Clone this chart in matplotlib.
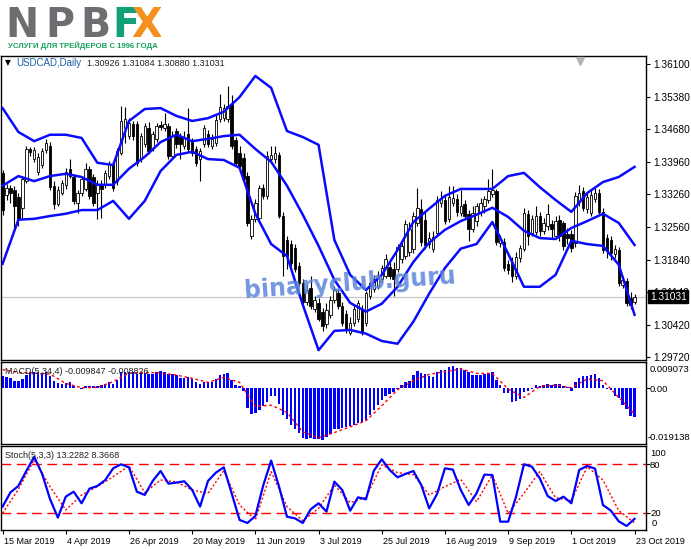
import matplotlib
matplotlib.use('Agg')
import matplotlib.pyplot as plt
import matplotlib.transforms as mtransforms
import numpy as np

# USDCAD daily, 15 Mar 2019 .. 23 Oct 2019
opens = [
    1.3373, 1.3325, 1.3340, 1.3336, 1.3321, 1.3297, 1.3355, 1.3425, 1.3403, 1.3375,
    1.3390, 1.3423, 1.3432, 1.3345, 1.3305, 1.3329, 1.3347, 1.3382, 1.3364, 1.3308,
    1.3329, 1.3338, 1.3382, 1.3364, 1.3329, 1.3349, 1.3349, 1.3366, 1.3392, 1.3355,
    1.3416, 1.3471, 1.3453, 1.3479, 1.3479, 1.3403, 1.3436, 1.3471, 1.3427, 1.3447,
    1.3477, 1.3471, 1.3475, 1.3410, 1.3464, 1.3453, 1.3432, 1.3458, 1.3442, 1.3425,
    1.3403, 1.3436, 1.3458, 1.3432, 1.3438, 1.3490, 1.3492, 1.3490, 1.3523, 1.3445,
    1.3416, 1.3405, 1.3366, 1.3236, 1.3273, 1.3275, 1.3340, 1.3323, 1.3403, 1.3403,
    1.3412, 1.3279, 1.3227, 1.3218, 1.3210, 1.3171, 1.3134, 1.3092, 1.3123, 1.3077,
    1.3090, 1.3071, 1.3044, 1.3064, 1.3097, 1.3112, 1.3084, 1.3066, 1.3025, 1.3047,
    1.3055, 1.3077, 1.3047, 1.3105, 1.3121, 1.3127, 1.3142, 1.3149, 1.3168, 1.3164,
    1.3164, 1.3186, 1.3192, 1.3201, 1.3208, 1.3264, 1.3295, 1.3271, 1.3218, 1.3208,
    1.3242, 1.3308, 1.3314, 1.3273, 1.3308, 1.3316, 1.3286, 1.3305, 1.3284, 1.3251,
    1.3268, 1.3288, 1.3301, 1.3314, 1.3327, 1.3334, 1.3221, 1.3223, 1.3175, 1.3177,
    1.3149, 1.3188, 1.3208, 1.3284, 1.3242, 1.3245, 1.3279, 1.3247, 1.3258, 1.3262,
    1.3236, 1.3271, 1.3264, 1.3240, 1.3240, 1.3221, 1.3310, 1.3334, 1.3295, 1.3286,
    1.3316, 1.3329, 1.3288, 1.3231, 1.3227, 1.3197, 1.3205, 1.3129, 1.3138, 1.3101,
    1.30926]
highs = [
    1.3379, 1.3349, 1.3347, 1.3345, 1.3329, 1.3366, 1.3432, 1.3429, 1.3429, 1.3416,
    1.3427, 1.3447, 1.3440, 1.3355, 1.3345, 1.3358, 1.3384, 1.3403, 1.3371, 1.3336,
    1.3366, 1.3395, 1.3388, 1.3371, 1.3358, 1.3358, 1.3379, 1.3399, 1.3399, 1.3427,
    1.3519, 1.3516, 1.3492, 1.3486, 1.3486, 1.3460, 1.3482, 1.3484, 1.3464, 1.3482,
    1.3486, 1.3503, 1.3482, 1.3464, 1.3471, 1.3460, 1.3464, 1.3514, 1.3449, 1.3432,
    1.3427, 1.3477, 1.3466, 1.3458, 1.3499, 1.3545, 1.3523, 1.3562, 1.3542, 1.3451,
    1.3432, 1.3416, 1.3375, 1.3282, 1.3316, 1.3347, 1.3349, 1.3421, 1.3432, 1.3432,
    1.3419, 1.3288, 1.3236, 1.3227, 1.3218, 1.3179, 1.3142, 1.3129, 1.3149, 1.3105,
    1.3101, 1.3079, 1.3090, 1.3105, 1.3127, 1.3121, 1.3092, 1.3075, 1.3060, 1.3086,
    1.3097, 1.3086, 1.3116, 1.3138, 1.3151, 1.3160, 1.3173, 1.3197, 1.3179, 1.3179,
    1.3218, 1.3225, 1.3271, 1.3266, 1.3288, 1.3340, 1.3316, 1.3288, 1.3245, 1.3247,
    1.3323, 1.3334, 1.3323, 1.3345, 1.3345, 1.3327, 1.3336, 1.3314, 1.3292, 1.3301,
    1.3308, 1.3318, 1.3323, 1.3360, 1.3382, 1.3338, 1.3238, 1.3231, 1.3184, 1.3190,
    1.3201, 1.3216, 1.3297, 1.3292, 1.3282, 1.3301, 1.3288, 1.3275, 1.3305, 1.3271,
    1.3279, 1.3282, 1.3268, 1.3253, 1.3249, 1.3332, 1.3347, 1.3342, 1.3329, 1.3336,
    1.3340, 1.3338, 1.3297, 1.3240, 1.3236, 1.3216, 1.3212, 1.3149, 1.3144, 1.3114,
    1.31084]
lows = [
    1.3282, 1.3314, 1.3308, 1.3251, 1.3258, 1.3273, 1.3351, 1.3410, 1.3397, 1.3368,
    1.3384, 1.3416, 1.3336, 1.3295, 1.3301, 1.3325, 1.3338, 1.3362, 1.3305, 1.3286,
    1.3323, 1.3334, 1.3316, 1.3301, 1.3273, 1.3275, 1.3340, 1.3360, 1.3334, 1.3347,
    1.3412, 1.3438, 1.3447, 1.3445, 1.3388, 1.3397, 1.3429, 1.3414, 1.3421, 1.3440,
    1.3466, 1.3464, 1.3403, 1.3405, 1.3427, 1.3403, 1.3425, 1.3419, 1.3410, 1.3388,
    1.3355, 1.3429, 1.3429, 1.3425, 1.3432, 1.3484, 1.3486, 1.3484, 1.3425, 1.3388,
    1.3377, 1.3353, 1.3258, 1.3229, 1.3266, 1.3268, 1.3316, 1.3316, 1.3397, 1.3395,
    1.3275, 1.3149, 1.3164, 1.3171, 1.3158, 1.3127, 1.3084, 1.3086, 1.3077, 1.3071,
    1.3051, 1.3029, 1.3036, 1.3057, 1.3090, 1.3077, 1.3040, 1.3025, 1.3021, 1.3040,
    1.3049, 1.3021, 1.3040, 1.3099, 1.3114, 1.3121, 1.3136, 1.3144, 1.3142, 1.3105,
    1.3158, 1.3177, 1.3186, 1.3192, 1.3199, 1.3258, 1.3214, 1.3208, 1.3210, 1.3201,
    1.3236, 1.3299, 1.3262, 1.3266, 1.3301, 1.3279, 1.3279, 1.3273, 1.3225, 1.3245,
    1.3258, 1.3279, 1.3286, 1.3308, 1.3321, 1.3216, 1.3212, 1.3160, 1.3153, 1.3136,
    1.3142, 1.3179, 1.3203, 1.3216, 1.3236, 1.3238, 1.3236, 1.3240, 1.3249, 1.3229,
    1.3229, 1.3225, 1.3205, 1.3218, 1.3201, 1.3212, 1.3301, 1.3290, 1.3286, 1.3279,
    1.3310, 1.3284, 1.3199, 1.3188, 1.3184, 1.3188, 1.3127, 1.3123, 1.3084, 1.3077,
    1.30880]
closes = [
    1.3292, 1.3340, 1.3329, 1.3301, 1.3273, 1.3360, 1.3425, 1.3419, 1.3423, 1.3408,
    1.3421, 1.3438, 1.3342, 1.3305, 1.3336, 1.3351, 1.3375, 1.3366, 1.3312, 1.3329,
    1.3360, 1.3382, 1.3323, 1.3308, 1.3349, 1.3338, 1.3373, 1.3392, 1.3340, 1.3421,
    1.3486, 1.3490, 1.3482, 1.3453, 1.3395, 1.3453, 1.3475, 1.3421, 1.3458, 1.3475,
    1.3473, 1.3479, 1.3410, 1.3453, 1.3436, 1.3436, 1.3449, 1.3425, 1.3416, 1.3395,
    1.3421, 1.3471, 1.3436, 1.3447, 1.3488, 1.3516, 1.3514, 1.3519, 1.3432, 1.3395,
    1.3388, 1.3360, 1.3264, 1.3273, 1.3308, 1.3340, 1.3323, 1.3410, 1.3412, 1.3416,
    1.3279, 1.3192, 1.3192, 1.3177, 1.3164, 1.3134, 1.3092, 1.3118, 1.3084, 1.3097,
    1.3055, 1.3040, 1.3075, 1.3097, 1.3118, 1.3084, 1.3047, 1.3034, 1.3047, 1.3077,
    1.3090, 1.3027, 1.3112, 1.3134, 1.3142, 1.3149, 1.3166, 1.3186, 1.3149, 1.3142,
    1.3212, 1.3214, 1.3262, 1.3251, 1.3279, 1.3297, 1.3223, 1.3216, 1.3231, 1.3234,
    1.3314, 1.3316, 1.3268, 1.3321, 1.3318, 1.3288, 1.3301, 1.3279, 1.3251, 1.3286,
    1.3301, 1.3308, 1.3316, 1.3334, 1.3336, 1.3223, 1.3229, 1.3166, 1.3162, 1.3149,
    1.3190, 1.3210, 1.3286, 1.3236, 1.3273, 1.3279, 1.3247, 1.3264, 1.3284, 1.3251,
    1.3268, 1.3236, 1.3214, 1.3231, 1.3210, 1.3323, 1.3329, 1.3297, 1.3321, 1.3325,
    1.3329, 1.3288, 1.3205, 1.3203, 1.3199, 1.3208, 1.3134, 1.3140, 1.3090, 1.3086,
    1.31031]

# Bollinger bands, read every 4th bar
bb_upper = [
    1.3514, 1.3462, 1.3442, 1.3456, 1.3456, 1.3449, 1.3395, 1.3390, 1.3486, 1.3512,
    1.3514, 1.3497, 1.3486, 1.3492, 1.3506, 1.3538, 1.3584, 1.3558, 1.3464, 1.3451,
    1.3434, 1.3227, 1.3151, 1.3118, 1.3151, 1.3205, 1.3266, 1.3295, 1.3323, 1.3338,
    1.3338, 1.3338, 1.3366, 1.3373, 1.3342, 1.3314, 1.3288, 1.3329, 1.3353, 1.3364,
    1.3386]
bb_mid = [
    1.3345, 1.3366, 1.3355, 1.3366, 1.3371, 1.3364, 1.3347, 1.3347, 1.3382, 1.3408,
    1.3440, 1.3456, 1.3442, 1.3447, 1.3453, 1.3456, 1.3425, 1.3397, 1.3345, 1.3282,
    1.3214, 1.3140, 1.3090, 1.3071, 1.3088, 1.3125, 1.3179, 1.3221, 1.3249, 1.3268,
    1.3282, 1.3297, 1.3277, 1.3247, 1.3231, 1.3229, 1.3253, 1.3268, 1.3284, 1.3264,
    1.3216]
bb_lower = [
    1.3175, 1.3271, 1.3273, 1.3279, 1.3284, 1.3292, 1.3292, 1.3312, 1.3273, 1.3312,
    1.3377, 1.3412, 1.3419, 1.3403, 1.3401, 1.3384, 1.3284, 1.3218, 1.3192, 1.3086,
    1.2987, 1.3029, 1.3031, 1.3023, 1.3007, 1.3001, 1.3049, 1.3110, 1.3166, 1.3208,
    1.3218, 1.3266, 1.3197, 1.3125, 1.3125, 1.3151, 1.3225, 1.3218, 1.3214, 1.3173,
    1.3064]

macd_hist = [
    0.00415, 0.00380, 0.00346, 0.00265, 0.00242, 0.00323, 0.00461, 0.00577, 0.00553, 0.00553,
    0.00530, 0.00577, 0.00438, 0.00265, 0.00184, 0.00161, 0.00173, 0.00208, 0.00092, 0.00023,
    -0.00023, 0.00069, 0.00069, 0.00069, 0.00069, 0.00115, 0.00138, 0.00208, 0.00161, 0.00300,
    0.00553, 0.00577, 0.00553, 0.00553, 0.00507, 0.00530, 0.00530, 0.00507, 0.00507, 0.00553,
    0.00600, 0.00577, 0.00484, 0.00484, 0.00461, 0.00369, 0.00369, 0.00392, 0.00323, 0.00231,
    0.00161, 0.00208, 0.00208, 0.00231, 0.00323, 0.00461, 0.00484, 0.00530, 0.00300, 0.00115,
    0.00069, -0.00081, -0.00692, -0.00888, -0.00853, -0.00738, -0.00600, -0.00461, -0.00277, -0.00277,
    -0.00542, -0.00922, -0.01061, -0.01268, -0.01384, -0.01522, -0.01695, -0.01730, -0.01695, -0.01730,
    -0.01753, -0.01776, -0.01660, -0.01580, -0.01407, -0.01384, -0.01372, -0.01337, -0.01314, -0.01268,
    -0.01199, -0.01176, -0.01084, -0.00922, -0.00738, -0.00577, -0.00392, -0.00277, -0.00184, -0.00115,
    -0.00035, 0.00115, 0.00208, 0.00242, 0.00461, 0.00611, 0.00519, 0.00496, 0.00438, 0.00392,
    0.00577, 0.00646, 0.00646, 0.00726, 0.00761, 0.00703, 0.00692, 0.00646, 0.00553, 0.00461,
    0.00473, 0.00461, 0.00496, 0.00530, 0.00553, 0.00300, 0.00115, -0.00161, -0.00161, -0.00461,
    -0.00450, -0.00369, -0.00115, -0.00081, -0.00035, 0.00115, 0.00069, 0.00115, 0.00150, 0.00115,
    0.00150, 0.00150, 0.00092, 0.00046, -0.00081, 0.00208, 0.00346, 0.00415, 0.00415, 0.00461,
    0.00496, 0.00346, 0.00115, -0.00023, -0.00046, -0.00254, -0.00346, -0.00577, -0.00715, -0.00945,
    -0.009847]
# signal line, every 4th bar
macd_signal = [
    0.00646, 0.00553, 0.00530, 0.00496, 0.00173, 0.00023, 0.00035, 0.00231, 0.00530, 0.00553,
    0.00530, 0.00461, 0.00346, 0.00208, 0.00380, 0.00208, -0.00623, -0.00577, -0.00830, -0.01499,
    -0.01706, -0.01522, -0.01326, -0.01118, -0.00600, -0.00046, 0.00265, 0.00484, 0.00577, 0.00669,
    0.00519, 0.00519, -0.00023, -0.00311, 0.00069, 0.00115, 0.00023, 0.00323, 0.00265, -0.00311,
    -0.008826]

# stochastic %K every 2nd bar, %D every 4th bar
stoch_k = [
    28.2, 45.7, 53.5, 71.8, 89.0, 68.6, 37.6, 14.7, 40.4, 46.5,
    32.3, 50.2, 53.5, 60.8, 75.1, 80.0, 76.3, 46.5, 42.5, 59.6,
    71.8, 56.3, 57.6, 59.2, 48.6, 28.2, 59.6, 69.8, 76.3, 44.5,
    11.9, 8.2, 16.8, 54.3, 84.5, 52.7, 15.9, 13.9, 8.2, 24.9,
    32.3, 22.1, 58.8, 48.6, 23.3, 39.6, 37.2, 72.2, 86.1, 73.1,
    64.1, 68.2, 71.8, 54.7, 26.1, 43.7, 75.1, 73.5, 48.6, 30.2,
    44.5, 67.4, 66.9, 9.8, 9.8, 40.4, 80.0, 77.1, 62.9, 41.2,
    35.1, 40.4, 32.3, 73.1, 78.0, 74.7, 30.2, 23.3, 10.2, 4.5,
    13.2282]
stoch_d = [
    20.0, 49.4, 85.3, 52.7, 24.1, 42.5, 52.7, 64.9, 78.0, 45.3,
    60.8, 58.4, 48.6, 44.5, 72.2, 30.2, 11.9, 71.0, 28.2, 11.0,
    26.1, 54.7, 33.1, 39.6, 79.2, 69.8, 67.4, 42.5, 52.7, 61.6,
    34.3, 66.9, 20.0, 44.5, 71.0, 39.2, 35.5, 77.1, 60.8, 23.3,
    8.3668]

price_ticks = [1.36100, 1.35380, 1.34680, 1.33960, 1.33260, 1.32560,
               1.31840, 1.31140, 1.30420, 1.29720]
date_labels = ['15 Mar 2019', '4 Apr 2019', '26 Apr 2019', '20 May 2019',
               '11 Jun 2019', '3 Jul 2019', '25 Jul 2019', '16 Aug 2019',
               '9 Sep 2019', '1 Oct 2019', '23 Oct 2019']

W, H = 691, 549
fig = plt.figure(figsize=(W / 100, H / 100), dpi=100)
plt.rcParams['font.family'] = ['Liberation Sans', 'DejaVu Sans']

def rect(x0, y0, x1, y1):
    return [x0 / W, 1 - y1 / H, (x1 - x0) / W, (y1 - y0) / H]

def ptext(x, y, s, **kw):
    kw.setdefault('va', 'center')
    return fig.text(x / W, 1 - y / H, s, **kw)

ax = fig.add_axes(rect(1, 56, 646, 360))
ax_m = fig.add_axes(rect(1, 362, 646, 444))
ax_s = fig.add_axes(rect(1, 446, 646, 530))

n = len(closes)
idx = np.arange(n)
o = np.array(opens); c = np.array(closes)
hi = np.array(highs); lo = np.array(lows)
bull = c >= o
body_lo = np.minimum(o, c)
body_h = np.maximum(np.abs(c - o), 0.00005)

ax.vlines(idx, lo, hi, color='black', lw=0.8, zorder=2)
ax.bar(idx[bull], body_h[bull], bottom=body_lo[bull], width=0.62,
       color='white', edgecolor='black', lw=0.6, zorder=3)
ax.bar(idx[~bull], body_h[~bull], bottom=body_lo[~bull], width=0.62,
       color='black', edgecolor='black', lw=0.6, zorder=3)

bb_x = np.arange(0, n, 4)
for band in (bb_upper, bb_mid, bb_lower):
    ax.plot(bb_x, band, color='#0a0aff', lw=1.8, zorder=4, solid_joinstyle='round')

ax.axhline(closes[-1], color='#c8c8c8', lw=0.9, zorder=1)

xmin, xmax = -0.4, 162.9
for a in (ax, ax_m, ax_s):
    a.set_xlim(xmin, xmax)
    for sp in a.spines.values():
        sp.set_color('black')
        sp.set_linewidth(1.0)
    a.yaxis.tick_right()
    a.tick_params(axis='y', direction='out', length=3, width=0.8, pad=2,
                  labelsize=7.3, colors='black')
    a.tick_params(axis='x', bottom=False, labelbottom=False)

ax.set_ylim(1.29656, 1.36274)
ax.set_yticks(price_ticks)
ax.set_yticklabels([f'{v:.5f}' for v in price_ticks])

# current price box
ax.text(1.0 + 4 / 645, closes[-1], f'{closes[-1]:.5f}', transform=ax.get_yaxis_transform(),
        color='white', fontsize=7.3, va='center', ha='left', zorder=10,
        bbox=dict(boxstyle='square,pad=0.15', fc='black', ec='black'), clip_on=False)

# shift marker
ax.plot([(580 - 1) / 645], [0.985], marker='v', ms=6, color='#b4b4b4',
        transform=ax.transAxes, clip_on=False, zorder=6)

# MACD panel
ax_m.bar(idx, macd_hist, width=0.62, color='#0000ff', zorder=2)
ax_m.plot(np.arange(0, n, 4), macd_signal, color='red', lw=1.0,
          ls=(0, (2, 2)), zorder=3)
ax_m.set_ylim(-0.01918, 0.00911)
ax_m.set_yticks([0.0])
ax_m.set_yticklabels([''])

# Stochastic panel
ax_s.plot(np.arange(0, n, 2), stoch_k, color='#0000ff', lw=1.6, zorder=3)
ax_s.plot(np.arange(0, n, 4), stoch_d, color='red', lw=1.0, ls=(0, (1.5, 1.5)), zorder=2)
for lev in (80, 20):
    ax_s.axhline(lev, color='red', lw=1.0, ls=(0, (7, 4)), zorder=1)
ax_s.set_ylim(-0.4, 102.4)
ax_s.set_yticks([20, 80])
ax_s.set_yticklabels(['', ''])

ax_s.tick_params(axis='x', bottom=True, labelbottom=True, direction='out',
                 length=3, width=0.8, pad=2, labelsize=6.5)
ax_s.set_xticks(np.arange(0, n, 16))
ax_s.set_xticklabels(date_labels)
shift = mtransforms.ScaledTranslation(1.0 / 100, 0, fig.dpi_scale_trans)
for lab in ax_s.get_xticklabels():
    lab.set_horizontalalignment('left')
    lab.set_transform(lab.get_transform() + shift)

# right-hand labels of the indicator panels
ptext(650, 370, '0.009073', fontsize=6.8)
ptext(650, 390, '0.00', fontsize=6.8)
ptext(648, 438, '-0.019138', fontsize=6.8)
ptext(650, 453, '100', fontsize=6.8)
ptext(650, 465, '80', fontsize=6.8)
ptext(650, 514, '20', fontsize=6.8)
ptext(652, 524, '0', fontsize=6.8)

# panel captions
ptext(5, 63, '\u25bc', fontsize=5.5, family='DejaVu Sans')
ptext(16, 63, 'USDCAD,Daily', fontsize=7, color='#1d5ea8')
ptext(87, 63, '1.30926 1.31084 1.30880 1.31031', fontsize=6.5, color='#202020')
ptext(5, 372, 'MACD(5,34,4) -0.009847 -0.008826', fontsize=6.5, color='#202020')
ptext(5, 455, 'Stoch(5,3,3) 13.2282 8.3668', fontsize=6.5, color='#202020')

# logo
logo_letters = [('N', 5, '#6d6e71'), ('P', 45, '#6d6e71'), ('B', 80, '#6d6e71'),
                ('F', 112, '#12a078'), ('X', 131, '#f5901e')]
for ch, x, col in logo_letters:
    ptext(x, 37, ch, fontsize=28.5, fontweight='bold', color=col, va='baseline',
          family='DejaVu Sans')
ptext(8, 46, '\u0423\u0421\u041b\u0423\u0413\u0418 \u0414\u041b\u042f \u0422\u0420\u0415\u0419\u0414\u0415\u0420\u041e\u0412 \u0421 1996 \u0413\u041e\u0414\u0410',
      fontsize=5.6, fontweight='bold', color='#17a05c')

# watermark
ptext(350, 284, 'binaryclub.guru', fontsize=17, fontweight='bold', color='#5b84d8',
      alpha=0.85, ha='center', rotation=4, family='DejaVu Sans')

fig.savefig('out.png', dpi=100)
